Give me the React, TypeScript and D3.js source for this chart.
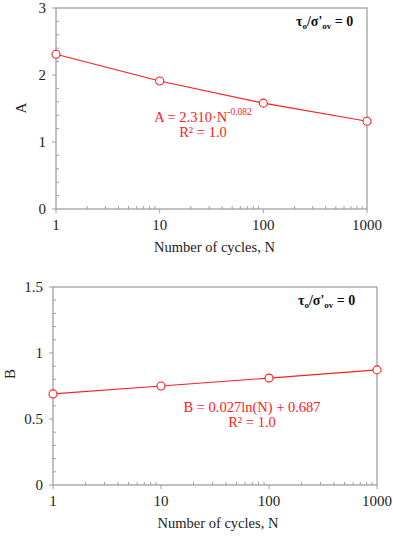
import * as d3 from "d3";

const cycles = [1, 10, 100, 1000];
const valuesA = [2.31, 1.91, 1.58, 1.31];
const valuesB = [0.69, 0.75, 0.81, 0.872];
const xTicks = [1, 10, 100, 1000];
const yTicksA = [0, 1, 2, 3];
const yTicksB = [0, 0.5, 1, 1.5];

const RED = "#ff2020";
const GRAY = "#a0a0a0";
const FONT = "'Liberation Serif', 'Times New Roman', serif";

interface PanelProps {
  values: number[];
  yTicks: number[];
  yMax: number;
  minorStep: number;
  box: { left: number; right: number; top: number; bottom: number };
  yTitle: string;
  yTitleX: number;
  yTitleY: number;
  eq: React.ReactNode;
  eqX: number;
  eqY: number;
  labelX: number;
  labelY: number;
}

function Panel(p: PanelProps) {
  const { box } = p;
  const x = d3.scaleLog().domain([1, 1000]).range([box.left, box.right]);
  const y = d3.scaleLinear().domain([0, p.yMax]).range([box.bottom, box.top]);
  const pts = cycles.map((c, i) => [x(c), y(p.values[i])] as [number, number]);
  const line = d3.line()(pts) ?? "";

  // minor log ticks 2..9 in each decade
  const minorX: number[] = [];
  for (let d = 1; d < 1000; d *= 10) for (let k = 2; k <= 9; k++) minorX.push(d * k);
  const minorY = d3.range(0, p.yMax + 1e-9, p.minorStep).filter(
    (v) => !p.yTicks.some((t) => Math.abs(t - v) < 1e-9)
  );

  return (
    <g fontFamily={FONT}>
      <rect x={box.left} y={box.top} width={box.right - box.left} height={box.bottom - box.top}
        fill="none" stroke={GRAY} strokeWidth={1.3} />
      {minorX.map((v) => (
        <line key={"mx" + v} x1={x(v)} x2={x(v)} y1={box.bottom} y2={box.bottom - 3} stroke={GRAY} />
      ))}
      {xTicks.map((v) => (
        <g key={"x" + v}>
          <line x1={x(v)} x2={x(v)} y1={box.bottom} y2={box.bottom + 4} stroke={GRAY} />
          <text x={x(v)} y={box.bottom + 21} textAnchor="middle" fontSize={15} fill="#222">{v}</text>
        </g>
      ))}
      {minorY.map((v) => (
        <line key={"my" + v} x1={box.left} x2={box.left + 3} y1={y(v)} y2={y(v)} stroke={GRAY} />
      ))}
      {p.yTicks.map((v) => (
        <g key={"y" + v}>
          <line x1={box.left - 4} x2={box.left} y1={y(v)} y2={y(v)} stroke={GRAY} />
          <text x={box.left - 10} y={y(v) + 5} textAnchor="end" fontSize={15} fill="#222">{String(v)}</text>
        </g>
      ))}
      <text x={(box.left + box.right) / 2 + 3} y={box.bottom + 43} textAnchor="middle" fontSize={14.5} fill="#222">
        Number of cycles, N
      </text>
      <text transform={`translate(${p.yTitleX},${p.yTitleY}) rotate(-90)`} textAnchor="middle" fontSize={15} fill="#222">
        {p.yTitle}
      </text>
      <path d={line} fill="none" stroke={RED} strokeWidth={1.1} />
      {pts.map(([cx, cy], i) => (
        <circle key={i} cx={cx} cy={cy} r={4} fill="white" stroke={RED} strokeWidth={1.1} />
      ))}
      <text x={p.eqX} y={p.eqY} textAnchor="middle" fontSize={14.5} fill={RED}>{p.eq}</text>
      <text x={p.eqX} y={p.eqY + 15} textAnchor="middle" fontSize={14.5} fill={RED}>R² = 1.0</text>
      <text x={p.labelX} y={p.labelY} fontSize={14} fontWeight="bold" fill="#111">
        τ<tspan fontSize={9} dy={3}>o</tspan>
        <tspan dy={-3}>/σ'</tspan>
        <tspan fontSize={9} dy={3}>ov</tspan>
        <tspan dy={-3}> =  0</tspan>
      </text>
    </g>
  );
}

export default function App() {
  return (
    <svg width={393} height={550} style={{ position: "absolute", left: 0, top: 0 }}>
      <rect width={393} height={550} fill="white" />
      <Panel
        values={valuesA}
        yTicks={yTicksA}
        yMax={3}
        minorStep={0.2}
        box={{ left: 56, right: 367, top: 8, bottom: 209 }}
        yTitle="A"
        yTitleX={26}
        yTitleY={108}
        eq={
          <>
            A = 2.310·N<tspan fontSize={9.5} dy={-7}>-0.082</tspan>
          </>
        }
        eqX={203}
        eqY={122}
        labelX={296}
        labelY={26}
      />
      <Panel
        values={valuesB}
        yTicks={yTicksB}
        yMax={1.5}
        minorStep={0.1}
        box={{ left: 53, right: 377, top: 287, bottom: 485 }}
        yTitle="B"
        yTitleX={15}
        yTitleY={374}
        eq={<>B = 0.027ln(N) + 0.687</>}
        eqX={252}
        eqY={412}
        labelX={298}
        labelY={305}
      />
    </svg>
  );
}
